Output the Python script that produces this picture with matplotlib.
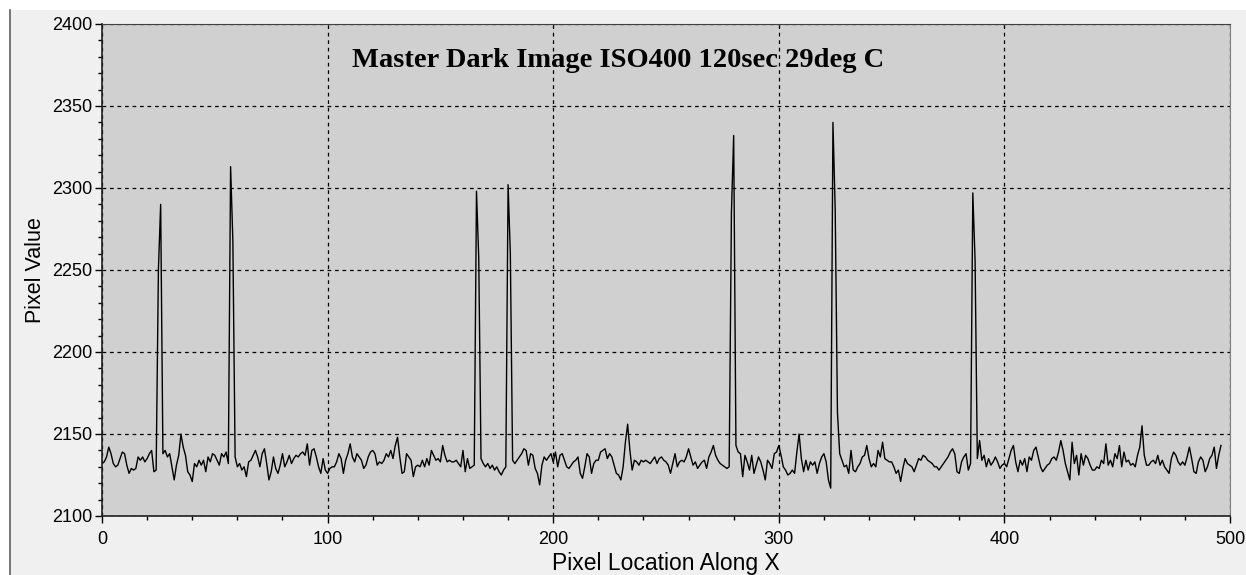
import numpy as np
import matplotlib
matplotlib.use("Agg")
import matplotlib.pyplot as plt
from matplotlib.patches import Rectangle
from matplotlib.lines import Line2D
from matplotlib.ticker import MultipleLocator

# pixel values read along the row, one per x position (0 .. 496)
pixel_value = [
    2132, 2133, 2136, 2142, 2138, 2132, 2130, 2131, 2135, 2139,
    2138, 2131, 2126, 2129, 2128, 2129, 2136, 2134, 2136, 2133,
    2135, 2138, 2140, 2127, 2128, 2250, 2290, 2138, 2140, 2136,
    2138, 2130, 2122, 2131, 2137, 2150, 2142, 2137, 2127, 2125,
    2121, 2132, 2130, 2134, 2131, 2134, 2127, 2136, 2133, 2138,
    2137, 2134, 2131, 2138, 2136, 2139, 2132, 2313, 2268, 2136,
    2130, 2132, 2128, 2130, 2124, 2133, 2134, 2137, 2140, 2136,
    2130, 2138, 2141, 2132, 2122, 2127, 2136, 2129, 2126, 2131,
    2138, 2130, 2133, 2137, 2132, 2135, 2137, 2136, 2138, 2139,
    2137, 2144, 2131, 2140, 2141, 2136, 2130, 2126, 2135, 2128,
    2126, 2129, 2130, 2130, 2133, 2138, 2135, 2126, 2134, 2138,
    2144, 2136, 2133, 2138, 2136, 2134, 2129, 2131, 2136, 2139,
    2140, 2138, 2131, 2133, 2132, 2134, 2138, 2136, 2140, 2135,
    2143, 2148, 2136, 2126, 2127, 2138, 2136, 2134, 2124, 2130,
    2131, 2130, 2134, 2130, 2135, 2131, 2140, 2137, 2134, 2135,
    2133, 2143, 2137, 2133, 2134, 2133, 2133, 2134, 2132, 2130,
    2140, 2127, 2135, 2129, 2130, 2131, 2298, 2257, 2135, 2132,
    2130, 2132, 2129, 2131, 2128, 2130, 2127, 2125, 2128, 2130,
    2302, 2260, 2134, 2132, 2134, 2136, 2138, 2141, 2140, 2131,
    2138, 2137, 2129, 2126, 2119, 2131, 2136, 2134, 2136, 2138,
    2133, 2139, 2130, 2137, 2138, 2134, 2130, 2129, 2131, 2133,
    2134, 2136, 2126, 2123, 2130, 2138, 2136, 2126, 2132, 2134,
    2134, 2139, 2140, 2141, 2135, 2138, 2136, 2131, 2126, 2125,
    2122, 2130, 2145, 2156, 2140, 2128, 2134, 2133, 2131, 2134,
    2133, 2134, 2133, 2132, 2134, 2136, 2132, 2135, 2136, 2134,
    2133, 2131, 2126, 2132, 2138, 2130, 2133, 2134, 2133, 2136,
    2141, 2136, 2131, 2133, 2129, 2131, 2133, 2134, 2129, 2136,
    2139, 2143, 2137, 2134, 2132, 2131, 2130, 2129, 2130, 2285,
    2332, 2143, 2139, 2138, 2124, 2137, 2133, 2128, 2137, 2126,
    2131, 2136, 2133, 2128, 2122, 2134, 2132, 2129, 2138, 2139,
    2143, 2137, 2130, 2128, 2125, 2126, 2128, 2126, 2139, 2150,
    2135, 2127, 2134, 2128, 2133, 2131, 2133, 2126, 2132, 2136,
    2138, 2133, 2122, 2117, 2340, 2287, 2163, 2138, 2134, 2130,
    2131, 2126, 2140, 2128, 2127, 2130, 2132, 2136, 2137, 2143,
    2135, 2130, 2132, 2130, 2140, 2136, 2145, 2135, 2134, 2133,
    2133, 2130, 2126, 2128, 2121, 2129, 2135, 2132, 2131, 2130,
    2127, 2131, 2135, 2134, 2137, 2136, 2134, 2133, 2132, 2130,
    2130, 2128, 2130, 2132, 2134, 2136, 2139, 2141, 2138, 2127,
    2126, 2133, 2136, 2138, 2128, 2132, 2297, 2256, 2135, 2146,
    2134, 2137, 2130, 2135, 2131, 2133, 2136, 2133, 2129, 2131,
    2132, 2130, 2135, 2140, 2143, 2133, 2127, 2134, 2131, 2135,
    2127, 2136, 2134, 2140, 2142, 2136, 2130, 2127, 2129, 2131,
    2132, 2135, 2136, 2134, 2139, 2146, 2140, 2132, 2127, 2122,
    2145, 2132, 2137, 2125, 2138, 2131, 2137, 2135, 2131, 2128,
    2128, 2130, 2129, 2134, 2132, 2144, 2131, 2134, 2130, 2138,
    2135, 2143, 2130, 2139, 2133, 2134, 2131, 2132, 2130, 2137,
    2142, 2155, 2137, 2131, 2131, 2133, 2134, 2132, 2137, 2131,
    2134, 2130, 2128, 2126, 2135, 2139, 2137, 2133, 2131, 2133,
    2131, 2136, 2142, 2135, 2127, 2126, 2133, 2136, 2134, 2127,
    2130, 2135, 2137, 2142, 2129, 2137, 2143,
]
pixel_x = np.arange(len(pixel_value))

x_ticks = [0, 100, 200, 300, 400, 500]
y_ticks = [2100, 2150, 2200, 2250, 2300, 2350, 2400]
titulo = "Master Dark Image ISO400 120sec 29deg C"

W, H = 1246, 575
fig = plt.figure(figsize=(W / 100, H / 100), dpi=100, facecolor="white")

# panel de fondo gris claro con borde izquierdo
fig.add_artist(Rectangle((10 / W, 0), 1 - 10 / W, 1 - 10 / H, transform=fig.transFigure,
                         facecolor="#f0f0f0", edgecolor="none", zorder=-10))
fig.add_artist(Line2D([10 / W, 10 / W], [0, 1 - 10 / H], transform=fig.transFigure,
                      color="#606060", lw=1.2))

ax = fig.add_axes([102 / W, 1 - 516 / H, (1230 - 102) / W, (516 - 24) / H])
ax.set_facecolor("#d0d0d0")
ax.plot(pixel_x, pixel_value, color="black", lw=1.0)

ax.set_xlim(0, 500)
ax.set_ylim(2100, 2400)
ax.set_xticks(x_ticks)
ax.set_yticks(y_ticks)
ax.xaxis.set_minor_locator(MultipleLocator(20))
ax.yaxis.set_minor_locator(MultipleLocator(10))
ax.tick_params(which="major", length=5, width=1, labelsize=13)
ax.tick_params(axis="x", pad=6)
ax.tick_params(axis="y", pad=2)
ax.tick_params(which="minor", length=3, width=1)
ax.tick_params(top=False, right=False)
for lab in ax.get_xticklabels() + ax.get_yticklabels():
    lab.set_family("Liberation Sans")

ax.grid(True, which="major", color="black", linestyle=(0, (3, 3)), lw=0.9)
for s in ["left", "bottom"]:
    ax.spines[s].set_color("#202020")
    ax.spines[s].set_linewidth(1.2)
ax.spines["top"].set_color("#404040")
ax.spines["right"].set_color("#808080")

ax.set_xlabel("Pixel Location Along X", fontsize=16.5, family="Liberation Sans", labelpad=3)
ax.set_ylabel("Pixel Value", fontsize=15.5, family="Liberation Sans", labelpad=4)

ax.text(229, 2378, titulo, ha="center", va="center", fontsize=20.5,
        family="Liberation Serif", fontweight="bold")

fig.savefig("out.png", dpi=100, facecolor=fig.get_facecolor())
